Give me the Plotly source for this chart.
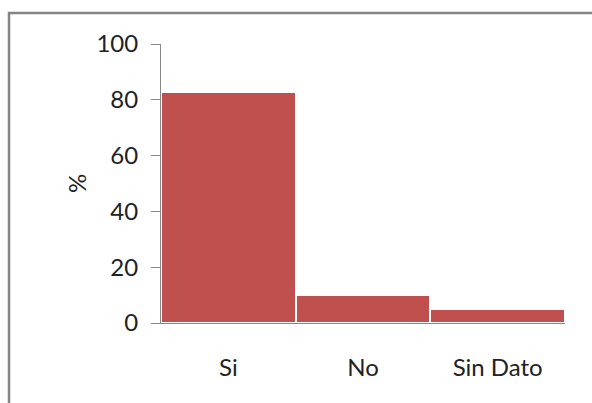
import plotly.graph_objects as go

categories = ["Si", "No", "Sin Dato"]
values = [82.8, 10.2, 5.0]
y_ticks = [0, 20, 40, 60, 80, 100]

W, H = 592, 403
L, R, T, B = 161, 27, 44, 80
pw, ph = W - L - R, H - T - B

fig = go.Figure(go.Bar(
    x=categories, y=values,
    marker=dict(color="#C0504D", line=dict(color="white", width=2)),
))

def px_x(p):
    return (p - L) / pw

def px_y(p):
    return (H - B - p) / ph

fig.update_layout(
    width=W, height=H,
    margin=dict(l=L, r=R, t=T, b=B),
    paper_bgcolor="white", plot_bgcolor="white",
    bargap=0,
    showlegend=False,
    font=dict(family="Lato", color="#222222"),
    xaxis=dict(showline=True, linecolor="#888888", linewidth=1, ticks="",
               tickfont=dict(size=24), ticklabelstandoff=23, showgrid=False),
    yaxis=dict(range=[0, 100], tickvals=y_ticks, showline=True, linecolor="#888888",
               linewidth=1, ticks="outside", ticklen=9, tickcolor="#888888",
               tickfont=dict(size=24), ticklabelstandoff=8, showgrid=False, zeroline=False),
    shapes=[dict(type="rect", xref="paper", yref="paper",
                 x0=px_x(9), x1=px_x(640), y0=px_y(13), y1=px_y(450),
                 line=dict(color="#858585", width=2.5), layer="above")],
    annotations=[dict(text="%", xref="paper", yref="paper", x=px_x(60), y=0.5,
                      showarrow=False, textangle=-90, font=dict(size=24))],
)

fig.write_html("out.html")
